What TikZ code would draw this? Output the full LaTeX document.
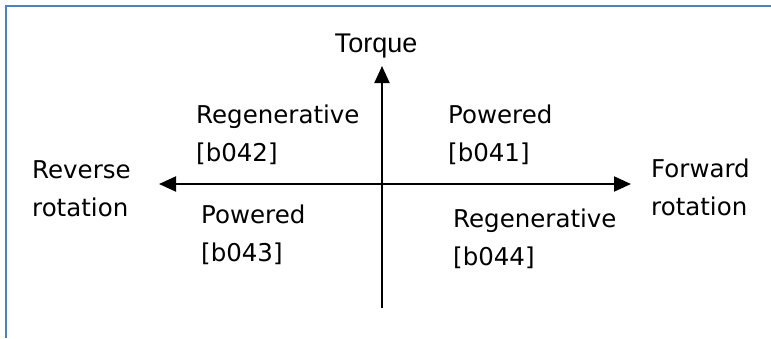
\documentclass[tikz,border=0pt]{standalone}
\usepackage{fontspec}
\setmainfont{DejaVu Sans}
\newfontfamily\arialfont{Liberation Sans}
\usetikzlibrary{arrows.meta}
\definecolor{framecol}{RGB}{79,129,189}
\tikzset{
  axis/.style={line width=2pt, -{Triangle[length=17pt,width=15pt]}},
  lbl/.style={font=\fontsize{24.5}{38}\selectfont, align=left, inner sep=0pt, anchor=west},
}
\begin{document}
\begin{tikzpicture}[x=1pt,y=-1pt]
\useasboundingbox (0,0) rectangle (771,338);
% frame
\draw[framecol, line width=1.5pt] (771,6) -- (6,6) -- (6,338);
% axes
\coordinate (O) at (382,184);
\coordinate (L) at (159,184);
\coordinate (R) at (631,184);
\coordinate (T) at (382,66);
\coordinate (B) at (382,308);
\draw[axis] (O) -- (L);
\draw[axis] (O) -- (R);
\draw[axis] (B) -- (T);
% labels
\node[font=\arialfont\fontsize{27}{32}\selectfont, inner sep=0pt, anchor=base] (torque) at (376,52) {Torque};
\node[lbl] (q2) at (196,134.5) {Regenerative\\{}[b042]};
\node[lbl] (q1) at (448,134.5) {Powered\\{}[b041]};
\node[lbl] (q3) at (201,234.5) {Powered\\{}[b043]};
\node[lbl] (q4) at (453,238.5) {Regenerative\\{}[b044]};
\node[lbl] (rev) at (32,189) {Reverse\\rotation};
\node[lbl] (fwd) at (651,187) {Forward\\rotation};
\end{tikzpicture}
\end{document}
